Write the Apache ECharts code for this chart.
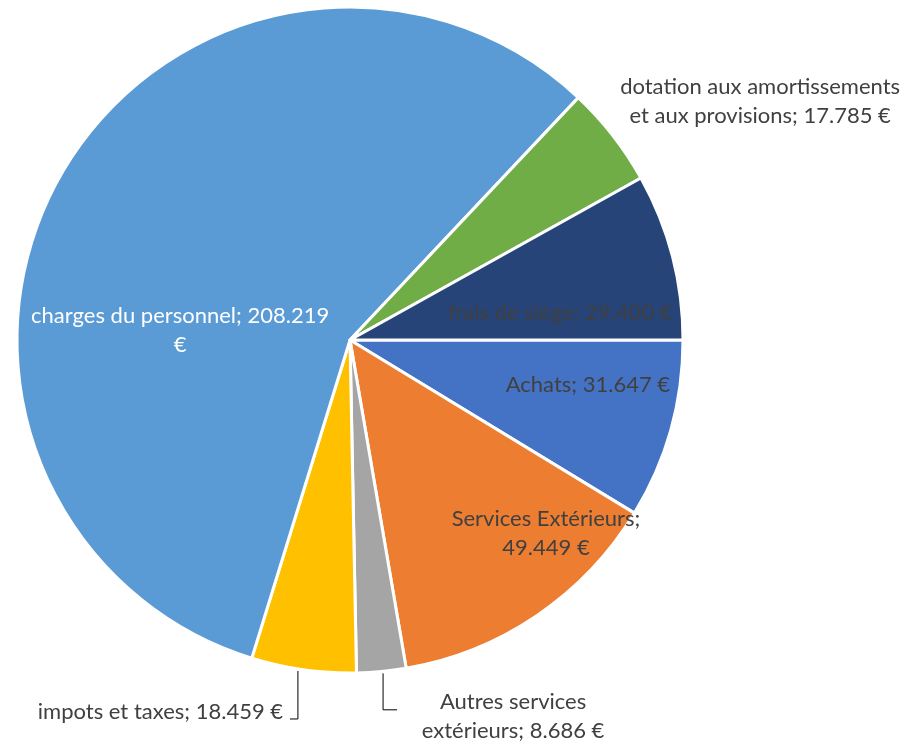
<!DOCTYPE html>
<html><head><meta charset="utf-8">
<script src="https://cdn.jsdelivr.net/npm/echarts@6/dist/echarts.min.js"></script>
<style>html,body{margin:0;padding:0;background:#fff}#c{width:909px;height:746px}</style>
</head><body><div id="c"></div>
<script>
const categories = ["Achats","Services Extérieurs","Autres services extérieurs","impots et taxes","charges du personnel","dotation aux amortissements et aux provisions","frais de siège"];
const values = [31647, 49449, 8686, 18459, 208219, 17785, 29400];
const labelTexts = ["Achats; {v}","Services Extérieurs;\n{v}","Autres services\nextérieurs; {v}","impots et taxes; {v}","charges du personnel; {v}\n€","dotation aux amortissements\net aux provisions; {v}","frais de siège; {v}"];
const colors = ["#4472C4","#ED7D31","#A5A5A5","#FFC000","#5B9BD5","#70AD47","#264478"];

function fmt(n){ return String(n).replace(/\B(?=(\d{3})+(?!\d))/g,'.'); }

const CX = 350, CY = 340, R = 333;
// label placement relative to pie center (polar: angle deg clockwise from east, distance as fraction of R) + alignment
const labelPlace = [
  {ang: 10.7, dist: 0.727, align:'center'},
  {ang: 44.56, dist: 0.826, align:'center'},
  {ang: 66.6, dist: 1.233, align:'center'},
  {ang: 100.2, dist: 1.135, align:'right'},
  {ang: 183.4, dist: 0.511, align:'center'},
  {ang: -30.2, dist: 1.425, align:'center'},
  {ang: -7.3, dist: 0.636, align:'center'}
];
const leaderAng = {2: 84.3, 3: 99.0};

const chart = echarts.init(document.getElementById('c'));
const data = categories.map((c,i)=>{
  const v = values[i];
  const txt = labelTexts[i].replace('{v}', (i===4? fmt(v) : fmt(v)+' €'));
  const outside = (i===2 || i===3 || i===5);
  return {
    name: c, value: v,
    itemStyle:{color: colors[i]},
    label:{
      show:true, position: outside ? 'outside' : 'inside',
      formatter: txt, overflow:'none',
      color: i===4 ? '#ffffff' : '#404040',
      fontFamily:'Lato', fontSize:22, lineHeight:29, align:'center'
    },
    labelLine:{show: (i===2||i===3), lineStyle:{color:'#000', width:1}}
  };
});

chart.setOption({
  animation:false,
  backgroundColor:'#fff',
  series:[{
    type:'pie',
    center:[CX, CY],
    radius:[0, R],
    startAngle:0,
    clockwise:true,
    itemStyle:{borderColor:'#fff', borderWidth:3},
    data: data,
    labelLayout: function(p){
      const i = p.dataIndex;
      const lp = labelPlace[i];
      const a = lp.ang*Math.PI/180;
      const x = CX + R*lp.dist*Math.cos(a);
      const y = CY + R*lp.dist*Math.sin(a);
      const res = {x:x, y:y, align:lp.align, verticalAlign:'middle'};
      if (i===3) {
        const ea = leaderAng[3]*Math.PI/180;
        const lx = CX + R*Math.cos(ea), ly = CY + R*Math.sin(ea);
        res.labelLinePoints = [[lx, ly+2],[lx, y+7],[lx-8, y+7]];
      }
      if (i===2) {
        const ea = leaderAng[2]*Math.PI/180;
        const lx = CX + R*Math.cos(ea), ly = CY + R*Math.sin(ea);
        res.labelLinePoints = [[lx, ly+2],[lx, y-7],[lx+14, y-7]];
      }
      return res;
    }
  }]
});
</script></body></html>
